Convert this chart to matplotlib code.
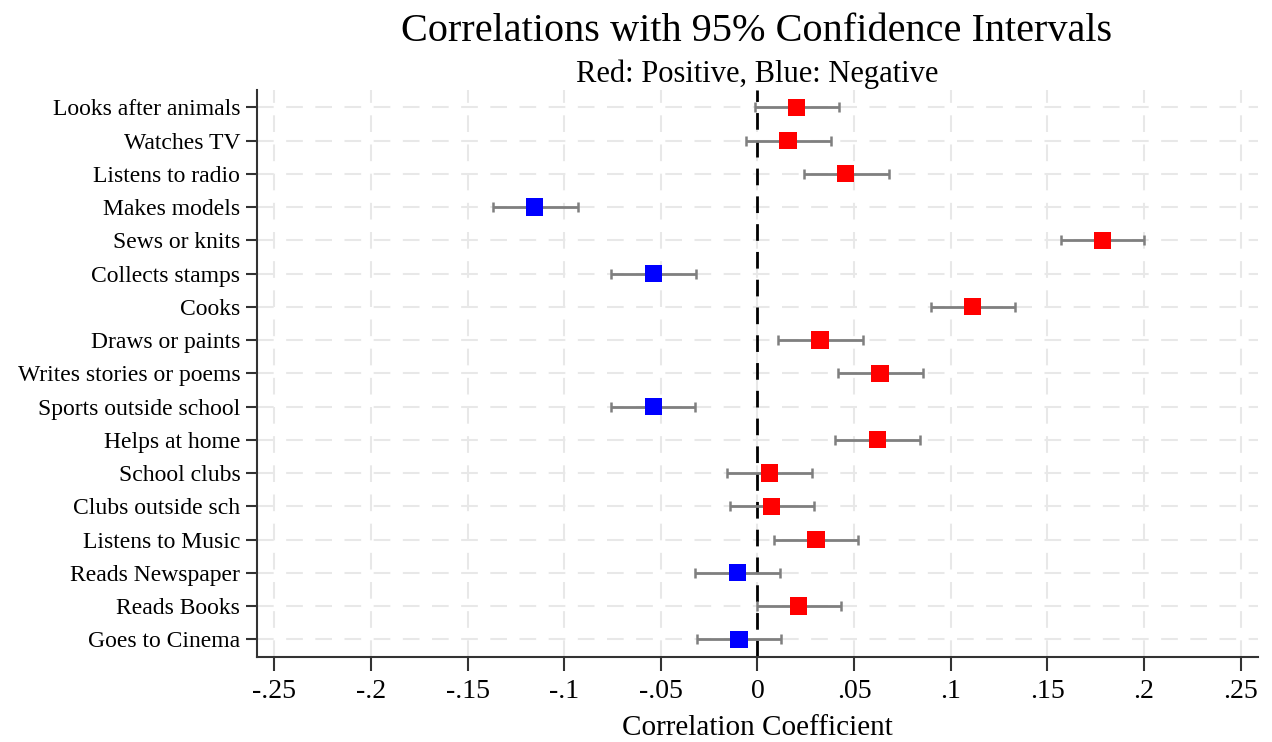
import matplotlib
matplotlib.use("Agg")
import matplotlib.pyplot as plt
import numpy as np

categories = ["Looks after animals", "Watches TV", "Listens to radio", "Makes models",
              "Sews or knits", "Collects stamps", "Cooks", "Draws or paints",
              "Writes stories or poems", "Sports outside school", "Helps at home",
              "School clubs", "Clubs outside sch", "Listens to Music", "Reads Newspaper",
              "Reads Books", "Goes to Cinema"]
corr = [0.0202, 0.0158, 0.0457, -0.1152, 0.1784, -0.0537, 0.1114, 0.0324,
        0.0634, -0.0538, 0.0620, 0.0064, 0.0074, 0.0303, -0.0102, 0.0212, -0.0095]
ci_low = [-0.0015, -0.0058, 0.0241, -0.1370, 0.1572, -0.0756, 0.0896, 0.0108,
          0.0416, -0.0758, 0.0403, -0.0157, -0.0143, 0.0084, -0.0322, -0.0003, -0.0314]
ci_high = [0.0420, 0.0378, 0.0678, -0.0930, 0.2000, -0.0318, 0.1332, 0.0545,
           0.0854, -0.0322, 0.0839, 0.0282, 0.0294, 0.0521, 0.0116, 0.0432, 0.0123]
xticks = [-0.25, -0.2, -0.15, -0.1, -0.05, 0, 0.05, 0.1, 0.15, 0.2, 0.25]
xtick_labels = ["-.25", "-.2", "-.15", "-.1", "-.05", "0", ".05", ".1", ".15", ".2", ".25"]

plt.rcParams['font.family'] = ['Liberation Serif', 'DejaVu Serif']

fig = plt.figure(figsize=(12.72, 7.42), dpi=100)
ax = fig.add_axes([0.202, 0.1146, 0.787, 0.7641])

n = len(categories)
ypos = np.arange(1, n + 1)

for x in xticks:
    ax.axvline(x, color='#e8e8e8', lw=1.5, dashes=(8, 6), zorder=0)
for y in ypos:
    ax.axhline(y, color='#e8e8e8', lw=1.5, dashes=(8, 6), zorder=0)

ax.axvline(0, color='black', lw=2, dashes=(6, 4), zorder=1)

corr_a = np.array(corr)
lo = corr_a - np.array(ci_low)
hi = np.array(ci_high) - corr_a
ax.errorbar(corr_a, ypos, xerr=[lo, hi], fmt='none', ecolor='#7f7f7f',
            elinewidth=2, capsize=3.6, capthick=1.8, zorder=2)
colors = ['#ff0000' if c > 0 else '#0000ff' for c in corr]
ax.scatter(corr_a, ypos, marker='s', s=155, c=colors, zorder=3, linewidths=0)

ax.set_xlim(-0.259, 0.259)
ax.set_ylim(n + 0.53, 0.48)
ax.set_yticks(ypos)
ax.set_yticklabels(categories, fontsize=17)
ax.set_xticks(xticks)
ax.set_xticklabels(xtick_labels, fontsize=20)
ax.tick_params(axis='y', length=8, width=1.5, color='#333333', pad=4)
ax.tick_params(axis='x', length=10, width=1.5, color='#333333', pad=6)
for s in ['top', 'right']:
    ax.spines[s].set_visible(False)
for s in ['left', 'bottom']:
    ax.spines[s].set_linewidth(1.5)
    ax.spines[s].set_color('#333333')

ax.set_xlabel("Correlation Coefficient", fontsize=21, labelpad=8)
fig.text(0.595, 0.957, "Correlations with 95% Confidence Intervals", ha='center',
         va='center', fontsize=29)
fig.text(0.595, 0.900, "Red: Positive, Blue: Negative", ha='center', va='center', fontsize=22)

fig.savefig("out.png", dpi=100)
